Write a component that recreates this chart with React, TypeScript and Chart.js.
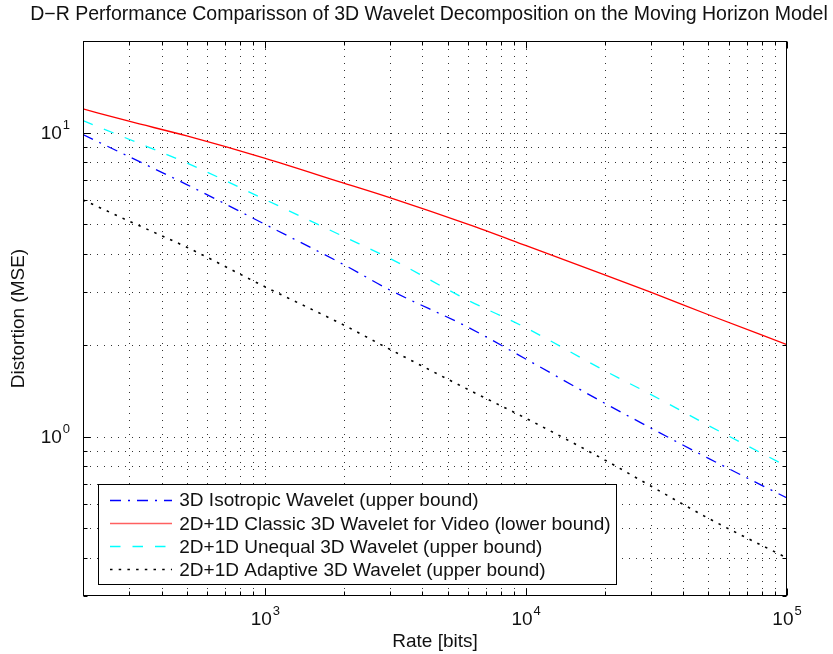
import React, { useEffect, useRef } from 'react';
import { Chart, registerables } from 'chart.js';

Chart.register(...registerables);

// ---- Data ----
const rates = [200, 300, 500, 1000, 2000, 3000, 6000, 10000, 20000, 30000, 50000, 100000];
const isotropic = [9.85, 8.34, 6.75, 4.99, 3.68, 3.04, 2.29, 1.8, 1.29, 1.07, 0.85, 0.63];
const classic = [11.96, 10.9, 9.75, 8.23, 6.82, 6.11, 4.99, 4.25, 3.41, 2.99, 2.52, 2.01];
const unequal = [10.95, 9.51, 7.95, 6.02, 4.55, 3.86, 2.81, 2.28, 1.65, 1.38, 1.09, 0.8];
const adaptive = [6.01, 5.12, 4.2, 3.11, 2.33, 1.94, 1.43, 1.15, 0.84, 0.69, 0.54, 0.4];

const seriesLabels = [
  '3D Isotropic Wavelet (upper bound)',
  '2D+1D Classic 3D Wavelet for Video (lower bound)',
  '2D+1D Unequal 3D Wavelet (upper bound)',
  '2D+1D Adaptive 3D Wavelet (upper bound)',
];

const titleText = 'D\u2212R Performance Comparisson of 3D Wavelet Decomposition on the Moving Horizon Model';
const xTitle = 'Rate [bits]';
const yTitle = 'Distortion (MSE)';

const xMin = 200;
const xMax = 100000;
const yMin = 0.3;
const yMax = 20;

const xTickValues = [
  200, 300, 400, 500, 600, 700, 800, 900,
  1000, 2000, 3000, 4000, 5000, 6000, 7000, 8000, 9000,
  10000, 20000, 30000, 40000, 50000, 60000, 70000, 80000, 90000,
  100000,
];
const yTickValues = [
  0.3, 0.4, 0.5, 0.6, 0.7, 0.8, 0.9,
  1, 2, 3, 4, 5, 6, 7, 8, 9,
  10, 20,
];
const xMajorExponents = [3, 4, 5];
const yMajorExponents = [0, 1];

const FONT = '"Liberation Sans", Arial, Helvetica, sans-serif';

const styles = [
  { color: '#0000ff', dash: [11, 7, 2, 7], legendColor: '#0000ff', width: 1.3 },
  { color: '#ff0000', dash: [] as number[], legendColor: '#ff6060', width: 1.3 },
  { color: '#00ffff', dash: [10.5, 12], legendColor: '#00ffff', width: 1.3 },
  { color: '#000000', dash: [2.5, 6.2], legendColor: '#000000', width: 1.6 },
];
const seriesValues = [isotropic, classic, unequal, adaptive];

function isMajor(v: number) {
  const l = Math.log10(v);
  return Math.abs(l - Math.round(l)) < 1e-9;
}

function drawPow(ctx: CanvasRenderingContext2D, exp: number, x: number, baseline: number, align: 'center' | 'right') {
  ctx.font = `19px ${FONT}`;
  const wb = ctx.measureText('10').width;
  ctx.font = `13px ${FONT}`;
  const we = ctx.measureText(String(exp)).width;
  const total = wb + 1 + we;
  const start = align === 'center' ? x - total / 2 : x - total;
  ctx.textAlign = 'left';
  ctx.textBaseline = 'alphabetic';
  ctx.font = `19px ${FONT}`;
  ctx.fillText('10', start, baseline);
  ctx.font = `13px ${FONT}`;
  ctx.fillText(String(exp), start + wb + 1, baseline - 10.5);
}

const matlabPlugin = {
  id: 'matlabAxes',
  beforeDatasetsDraw(chart: any) {
    const { ctx, chartArea: a, scales } = chart;
    const xs = scales.x;
    const ys = scales.y;
    ctx.save();
    ctx.strokeStyle = 'rgba(0,0,0,0.8)';
    ctx.lineWidth = 1;
    ctx.setLineDash([1, 6]);
    xTickValues.forEach((v) => {
      if (v <= xMin || v >= xMax) return;
      const px = Math.round(xs.getPixelForValue(v)) + 0.5;
      ctx.beginPath();
      ctx.moveTo(px, a.bottom);
      ctx.lineTo(px, a.top);
      ctx.stroke();
    });
    yTickValues.forEach((v) => {
      if (v <= yMin || v >= yMax) return;
      const py = Math.round(ys.getPixelForValue(v)) + 0.5;
      ctx.beginPath();
      ctx.moveTo(a.left, py);
      ctx.lineTo(a.right, py);
      ctx.stroke();
    });
    ctx.restore();
  },
  afterDatasetsDraw(chart: any) {
    const { ctx, chartArea: a, scales } = chart;
    const xs = scales.x;
    const ys = scales.y;
    ctx.save();
    ctx.setLineDash([]);
    ctx.strokeStyle = '#000';
    ctx.lineWidth = 1;
    const L = Math.round(a.left) + 0.5;
    const R = Math.round(a.right) - 0.5;
    const T = Math.round(a.top) + 0.5;
    const B = Math.round(a.bottom) - 0.5;
    ctx.strokeRect(L, T, R - L, B - T);
    // inward ticks
    ctx.beginPath();
    xTickValues.forEach((v) => {
      const px = Math.round(xs.getPixelForValue(v)) + 0.5;
      const len = isMajor(v) ? 7 : 4;
      ctx.moveTo(px, B);
      ctx.lineTo(px, B - len);
      ctx.moveTo(px, T);
      ctx.lineTo(px, T + len);
    });
    yTickValues.forEach((v) => {
      const py = Math.round(ys.getPixelForValue(v)) + 0.5;
      const len = isMajor(v) ? 7 : 4;
      ctx.moveTo(L, py);
      ctx.lineTo(L + len, py);
      ctx.moveTo(R, py);
      ctx.lineTo(R - len, py);
    });
    ctx.stroke();

    ctx.fillStyle = '#111';
    // tick labels
    xMajorExponents.forEach((e) => {
      const px = xs.getPixelForValue(Math.pow(10, e));
      drawPow(ctx, e, px, a.bottom + 29, 'center');
    });
    yMajorExponents.forEach((e) => {
      const py = ys.getPixelForValue(Math.pow(10, e));
      drawPow(ctx, e, a.left - 13, py + 6.5, 'right');
    });

    // axis titles
    ctx.font = `19px ${FONT}`;
    ctx.textAlign = 'center';
    ctx.textBaseline = 'alphabetic';
    ctx.fillText(xTitle, (a.left + a.right) / 2, a.bottom + 51);
    ctx.save();
    ctx.translate(24, (a.top + a.bottom) / 2);
    ctx.rotate(-Math.PI / 2);
    ctx.fillText(yTitle, 0, 0);
    ctx.restore();

    // title
    ctx.font = `19.5px ${FONT}`;
    ctx.fillText(titleText, 429, 20);

    // legend
    const lx = 98.5, ly = 484.5, lw = 518, lh = 100;
    ctx.fillStyle = '#fff';
    ctx.fillRect(lx, ly, lw, lh);
    ctx.strokeStyle = '#000';
    ctx.lineWidth = 1;
    ctx.setLineDash([]);
    ctx.strokeRect(lx, ly, lw, lh);
    seriesLabels.forEach((label, i) => {
      const cy = 499.6 + i * 23.1;
      ctx.save();
      ctx.strokeStyle = styles[i].legendColor;
      ctx.lineWidth = i === 1 ? 1.6 : styles[i].width;
      ctx.setLineDash(styles[i].dash);
      ctx.beginPath();
      ctx.moveTo(110, Math.round(cy) + 0.5);
      ctx.lineTo(172, Math.round(cy) + 0.5);
      ctx.stroke();
      ctx.restore();
      ctx.fillStyle = '#111';
      ctx.font = `19px ${FONT}`;
      ctx.textAlign = 'left';
      ctx.textBaseline = 'alphabetic';
      ctx.fillText(label, 179.3, cy + 6.8);
    });
    ctx.restore();
  },
};

export default function App() {
  const ref = useRef<HTMLCanvasElement | null>(null);
  useEffect(() => {
    if (!ref.current) return;
    const datasets = seriesValues.map((vals, i) => ({
      label: seriesLabels[i],
      data: rates.map((r, j) => ({ x: r, y: vals[j] })),
      borderColor: styles[i].color,
      backgroundColor: styles[i].color,
      borderDash: styles[i].dash,
      borderWidth: styles[i].width,
      pointRadius: 0,
      fill: false,
      cubicInterpolationMode: 'monotone',
    }));
    const chart = new Chart(ref.current, {
      type: 'line',
      data: { datasets },
      options: {
        animation: false,
        responsive: false,
        devicePixelRatio: 1,
        layout: { padding: { top: 41, right: 46, left: 0, bottom: 0 } },
        plugins: {
          legend: { display: false },
          title: { display: false },
          tooltip: { enabled: false },
        },
        scales: {
          x: {
            type: 'logarithmic',
            min: xMin,
            max: xMax,
            grid: { display: false },
            border: { display: false },
            ticks: { display: false },
            afterBuildTicks: (s: any) => {
              s.ticks = xTickValues.map((v) => ({ value: v }));
            },
            afterFit: (s: any) => {
              s.height = 58;
            },
          },
          y: {
            type: 'logarithmic',
            min: yMin,
            max: yMax,
            grid: { display: false },
            border: { display: false },
            ticks: { display: false },
            afterBuildTicks: (s: any) => {
              s.ticks = yTickValues.map((v) => ({ value: v }));
            },
            afterFit: (s: any) => {
              s.width = 83;
            },
          },
        },
      } as any,
      plugins: [matlabPlugin],
    });
    return () => chart.destroy();
  }, []);
  return (
    <div style={{ position: 'absolute', left: 0, top: 0, width: 833, height: 654, background: '#fff' }}>
      <canvas ref={ref} width={833} height={654} style={{ display: 'block' }} />
    </div>
  );
}
